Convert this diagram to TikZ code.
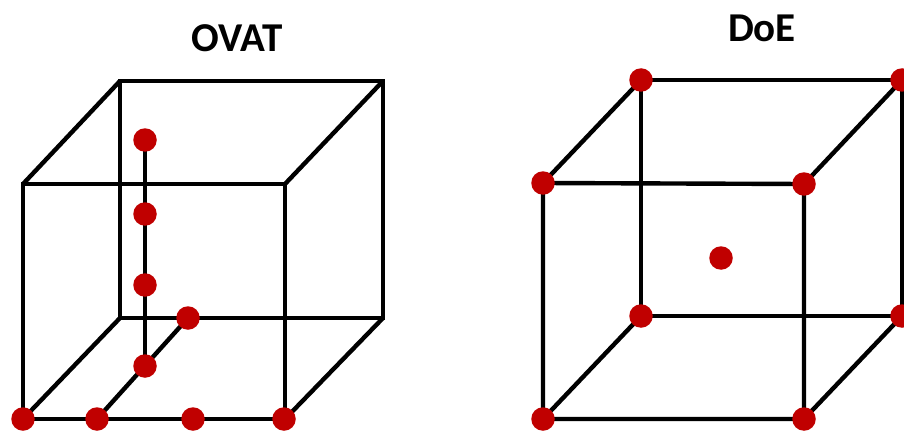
\documentclass[tikz,border=0pt]{standalone}
\usepackage{fontspec}
\setmainfont{Carlito}
\definecolor{dotred}{HTML}{C00000}

\begin{document}
\begin{tikzpicture}[
		x=1pt, y=-1pt,
		edge/.style={
			draw,
			line width=4.4pt,
			line join=miter
		},
		dot/.style={
			circle,
			fill=dotred,
			inner sep=0pt,
			minimum size=23.5pt
		},
		title/.style={
			font=\fontsize{41}{48}\selectfont\bfseries
		}
		]
		
		\useasboundingbox (0,0) rectangle (904,433);
		
		% OVAT cube
		\coordinate (oftl) at (23,184);
		\coordinate (oftr) at (285,184);
		\coordinate (ofbr) at (285,419);
		\coordinate (ofbl) at (23,419);
		\coordinate (obtl) at (120,81);
		\coordinate (obtr) at (383,81);
		\coordinate (obbr) at (383,318);
		\coordinate (obbl) at (120,318);
		
		\node[title] (ovat) at (237,38) {OVAT};
		
		\draw[edge] (oftl)--(oftr)--(ofbr)--(ofbl)--cycle;
		\draw[edge] (obtl)--(obtr)--(obbr)--(obbl)--cycle;
		\draw[edge] (oftl)--(obtl);
		\draw[edge] (oftr)--(obtr);
		\draw[edge] (ofbr)--(obbr);
		\draw[edge] (ofbl)--(obbl);
		
		\coordinate (o2) at (97,419);
		\coordinate (o5) at (188,318);
		\coordinate (o6) at (145,366);
		\coordinate (o9) at (145,140);
		
		\draw[edge] (o2)--(o5);
		\draw[edge] (o6)--(o9);
		
		\node[dot] (o1-dot) at (ofbl) {};
		\node[dot] (o2-dot) at (o2) {};
		\node[dot] (o3-dot) at (193,419) {};
		\node[dot] (o4-dot) at (284,419) {};
		\node[dot] (o5-dot) at (o5) {};
		\node[dot] (o6-dot) at (o6) {};
		\node[dot] (o7-dot) at (145,285) {};
		\node[dot] (o8-dot) at (145,214) {};
		\node[dot] (o9-dot) at (o9) {};
		
		% DoE cube
		\coordinate (dftl) at (543,183);
		\coordinate (dftr) at (804,184);
		\coordinate (dfbr) at (804,419);
		\coordinate (dfbl) at (543,419);
		\coordinate (dbtl) at (641,80);
		\coordinate (dbtr) at (902,80);
		\coordinate (dbbr) at (902,316);
		\coordinate (dbbl) at (641,316);
		
		\node[title] (doe) at (762,28) {DoE};
		
		\draw[edge] (dftl)--(dftr)--(dfbr)--(dfbl)--cycle;
		\draw[edge] (dbtl)--(dbtr)--(dbbr)--(dbbl)--cycle;
		\draw[edge] (dftl)--(dbtl);
		\draw[edge] (dftr)--(dbtr);
		\draw[edge] (dfbr)--(dbbr);
		\draw[edge] (dfbl)--(dbbl);
		
		\foreach \c in {dftl,dftr,dfbr,dfbl,dbtl,dbtr,dbbr,dbbl}
			\node[dot] (\c-dot) at (\c) {};
		\node[dot] (dmid) at (721,258) {};
		
	\end{tikzpicture}
\end{document}
